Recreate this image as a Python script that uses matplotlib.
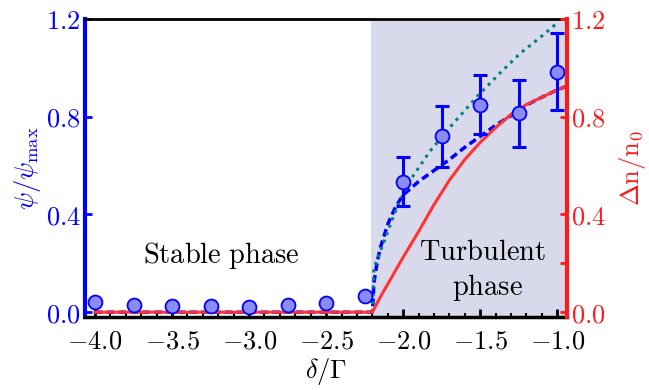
import numpy as np
import matplotlib
matplotlib.use("Agg")
import matplotlib.pyplot as plt
from matplotlib.ticker import FixedLocator, FuncFormatter, MultipleLocator

plt.rcParams['mathtext.fontset'] = 'cm'
plt.rcParams['font.family'] = 'serif'
plt.rcParams['font.serif'] = ['DejaVu Serif']

# Data points with error bars
det_pts = [-4.0, -3.75, -3.5, -3.25, -3.0, -2.75, -2.5, -2.25, -2.0, -1.75, -1.5, -1.25, -1.0]
psi_pts = [0.042, 0.029, 0.025, 0.025, 0.023, 0.029, 0.038, 0.066, 0.535, 0.72, 0.85, 0.815, 0.985]
err_det = [-2.0, -1.75, -1.5, -1.25, -1.0]
err_psi = [0.535, 0.72, 0.85, 0.815, 0.985]
err_val = [0.10, 0.125, 0.12, 0.137, 0.157]

# Red solid curve (Δn/n0)
red_x = [-4.0, -2.2, -2.19, -2.15, -2.1, -2.0, -1.9, -1.8, -1.7, -1.6, -1.5, -1.4, -1.3, -1.2, -1.1, -1.0, -0.94]
red_y = [0.0, 0.0, 0.012, 0.06, 0.115, 0.225, 0.33, 0.44, 0.54, 0.625, 0.695, 0.755, 0.81, 0.85, 0.88, 0.91, 0.925]

# Blue dashed curve
blue_x = [-4.0, -2.2, -2.195, -2.19, -2.17, -2.15, -2.1, -2.05, -2.0, -1.9, -1.8, -1.7, -1.6, -1.5, -1.4, -1.3, -1.2, -1.1, -1.0, -0.94]
blue_y = [0.0, 0.0, 0.05, 0.12, 0.2, 0.26, 0.36, 0.43, 0.48, 0.535, 0.58, 0.625, 0.675, 0.72, 0.765, 0.805, 0.848, 0.88, 0.91, 0.925]

# Teal dotted curve
teal_x = [-2.2, -2.195, -2.19, -2.13, -2.04, -1.955, -1.825, -1.673, -1.52, -1.37, -1.24, -1.12, -1.013]
teal_y = [0.0, 0.08, 0.18, 0.28, 0.43, 0.54, 0.66, 0.774, 0.883, 0.98, 1.06, 1.12, 1.177]

shade_start = -2.21

fig = plt.figure(figsize=(6.49, 3.9), dpi=100)
ax = fig.add_axes([0.131, 0.187, 0.743, 0.764])
xmin, xmax = -4.065, -0.935
ymin, ymax = -0.02, 1.2

ax.axvspan(shade_start, xmax, color='#d8d9ea', zorder=0, lw=0)

ax.plot(blue_x, blue_y, color='#0000ff', lw=2.5, ls=(0, (2.2, 1.2)), zorder=3)
ax.plot(teal_x, teal_y, color='#008080', lw=2.2, ls=(0, (1, 1.6)), zorder=3)
ax.plot(red_x, red_y, color='#ff3333', lw=2.2, zorder=4)

ax.errorbar(err_det, err_psi, yerr=err_val, fmt='none', ecolor='#0000ff',
            elinewidth=2.2, capsize=5, capthick=2.2, zorder=5)
ax.plot(det_pts, psi_pts, 'o', ms=10, mfc='#8b8bf4', mec='#0000ff', mew=1.3, zorder=6)

ax.set_xlim(xmin, xmax)
ax.set_ylim(ymin, ymax)

fs = 19
tfs = 20.5
def fmt(v, pos):
    s = f"{v:.1f}"
    if s.startswith('-'):
        s = r'-' + s[1:]
    return '$' + s + '$'

ax.xaxis.set_major_locator(FixedLocator([-4.0, -3.5, -3.0, -2.5, -2.0, -1.5, -1.0]))
ax.xaxis.set_minor_locator(MultipleLocator(0.1))
ax.xaxis.set_major_formatter(FuncFormatter(fmt))
ax.yaxis.set_major_locator(FixedLocator([0.0, 0.4, 0.8, 1.2]))
ax.yaxis.set_major_formatter(FuncFormatter(fmt))

ax.tick_params(axis='x', which='major', direction='in', length=6, width=2, labelsize=fs, pad=8, top=False)
ax.tick_params(axis='x', which='minor', direction='in', length=3, width=1.5, top=False)
ax.tick_params(axis='y', which='major', direction='in', length=5, width=2, colors='#0000ff', labelsize=fs, pad=3)

ax.spines['left'].set_color('#0000ff'); ax.spines['left'].set_linewidth(3)
ax.spines['bottom'].set_linewidth(2.5)
ax.spines['top'].set_linewidth(2)
ax.spines['right'].set_visible(False)

ax2 = ax.twinx()
ax2.set_ylim(ymin, ymax)
ax2.yaxis.set_major_locator(FixedLocator([0.0, 0.4, 0.8, 1.2]))
ax2.yaxis.set_minor_locator(FixedLocator([0.2]))
ax2.yaxis.set_major_formatter(FuncFormatter(fmt))
ax2.tick_params(axis='y', which='major', direction='in', length=5, width=2, colors='#ff1a1a', labelsize=fs, pad=3)
ax2.tick_params(axis='y', which='minor', direction='in', length=5, width=2, colors='#ff1a1a')
ax2.spines['right'].set_color('#ff1a1a'); ax2.spines['right'].set_linewidth(3)
for s in ['left', 'top', 'bottom']:
    ax2.spines[s].set_visible(False)

ax.set_xlabel(r'$\delta/\Gamma$', fontsize=fs, labelpad=2)
ax.set_ylabel(r'$\psi/\psi_{\rm max}$', fontsize=fs, color='#0000ff', labelpad=2)
ax2.set_ylabel(r'$\Delta\mathrm{n}/\mathrm{n}_0$', fontsize=fs, color='#ff1a1a', labelpad=8)

ax.text(-3.18, 0.234, r'$\mathrm{Stable\ phase}$', fontsize=tfs, ha='center', va='center')
ax.text(-1.484, 0.245, r'$\mathrm{Turbulent}$', fontsize=tfs, ha='center', va='center')
ax.text(-1.455, 0.10, r'$\mathrm{phase}$', fontsize=tfs, ha='center', va='center')

fig.savefig('out.png', dpi=100)
